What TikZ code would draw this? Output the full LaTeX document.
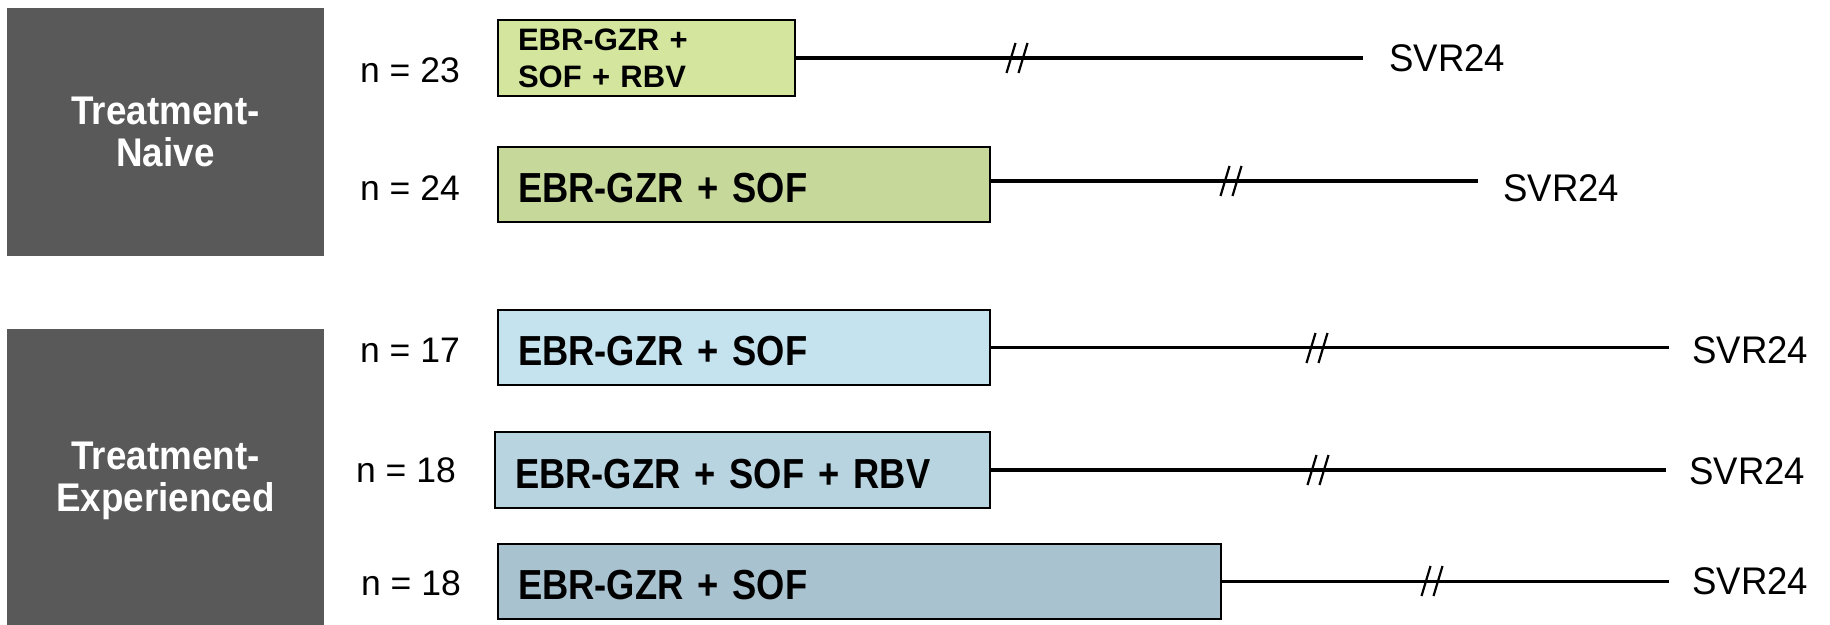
\documentclass[tikz,border=0pt]{standalone}
\usepackage{fontspec}
\setmainfont{Liberation Sans}
\newfontfamily\armfont{Liberation Sans}[FakeStretch=0.865]
\newfontfamily\groupfont{Liberation Sans}[FakeStretch=0.92]
\newfontfamily\svrfont{Liberation Sans}[FakeStretch=0.95]
\definecolor{groupgrey}{HTML}{595959}
\definecolor{armgA}{HTML}{D4E59D}
\definecolor{armgB}{HTML}{C6D99A}
\definecolor{armbA}{HTML}{C5E3EF}
\definecolor{armbB}{HTML}{B7D4E0}
\definecolor{armbC}{HTML}{A9C2CF}
\begin{document}
\begin{tikzpicture}[x=1pt,y=-1pt,
  group/.style={fill=groupgrey, draw=none, text=white, align=center, inner sep=0pt,
    font=\groupfont\fontsize{40}{42}\selectfont\bfseries},
  arm/.style={draw=black, line width=2.5pt, inner xsep=20pt, inner ysep=0pt, align=left,
    text height=36pt, text depth=0pt,
    font=\armfont\fontsize{42}{48}\selectfont\bfseries},
  nlab/.style={inner sep=0pt, font=\fontsize{35.5}{42}\selectfont},
  svr/.style={inner sep=0pt, anchor=west, font=\svrfont\fontsize{38.5}{44}\selectfont},
  followup/.style={line width=3.5pt},
  brk/.pic={\draw[line width=2.2pt] (-10.5,15) -- (-1.5,-15) (1.5,15) -- (10.5,-15);}
]
\useasboundingbox (0,0) rectangle (1830,624);
\fill[white] (0,0) rectangle (1830,624);

% patient groups
\node[group, minimum width=317pt, minimum height=248pt] (naive) at (165.5,132) {Treatment-\\Naive};
\node[group, minimum width=317pt, minimum height=304pt] (exper) at (165.5,481) {Treatment-\\Experienced};

% sample sizes
\node[nlab] (n1) at (410,70) {n = 23};
\node[nlab] (n2) at (410,188) {n = 24};
\node[nlab] (n3) at (410,350) {n = 17};
\node[nlab] (n4) at (406,470) {n = 18};
\node[nlab] (n5) at (411,583) {n = 18};

% treatment arms
\node[arm, fill=armgA, text width=257pt, minimum height=76pt, text height=, text depth=,
  font=\fontsize{31}{37}\selectfont\bfseries] (a1) at (646.5,58) {EBR-GZR +\\SOF + RBV};
\node[arm, fill=armgB, text width=452pt, minimum height=75pt] (a2) at (744,184.5) {EBR-GZR + SOF};
\node[arm, fill=armbA, text width=452pt, minimum height=75pt] (a3) at (744,347.5) {EBR-GZR + SOF};
\node[arm, fill=armbB, text width=455pt, minimum height=76pt] (a4) at (742.5,470) {EBR-GZR + SOF + RBV};
\node[arm, fill=armbC, text width=683pt, minimum height=75pt] (a5) at (859.5,581.5) {EBR-GZR + SOF};

% end points
\node[svr] (s1) at (1389,58) {SVR24};
\node[svr] (s2) at (1503,188) {SVR24};
\node[svr] (s3) at (1692,350) {SVR24};
\node[svr] (s4) at (1689,471) {SVR24};
\node[svr] (s5) at (1692,581) {SVR24};

% follow-up lines
\draw[followup] (a1.east) -- ([xshift=-26pt]a1.east -| s1.west);
\draw[followup] (a2.east |- 0,181) -- ([xshift=-25pt]s2.west |- 0,181);
\draw[followup] (a3.east) -- ([xshift=-23pt]a3.east -| s3.west);
\draw[followup] (a4.east) -- ([xshift=-23pt]a4.east -| s4.west);
\draw[followup] (a5.east) -- ([xshift=-23pt]a5.east -| s5.west);

% time breaks
\pic at (1017,58) {brk};
\pic at (1231,181) {brk};
\pic at (1317,348) {brk};
\pic at (1318,470) {brk};
\pic at (1432,581) {brk};
\end{tikzpicture}
\end{document}
